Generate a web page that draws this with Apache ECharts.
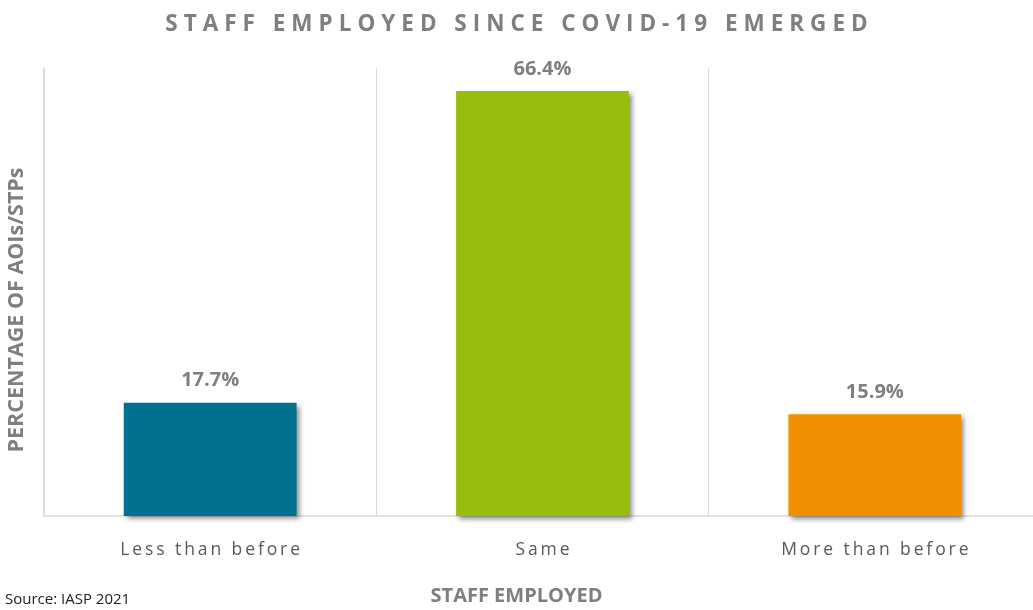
<!DOCTYPE html>
<html>
<head>
<meta charset="utf-8">
<script src="https://cdn.jsdelivr.net/npm/echarts@6/dist/echarts.min.js"></script>
<style>
  html, body { margin: 0; padding: 0; background: #fff; }
  #chart { width: 1033px; height: 610px; }
</style>
</head>
<body>
<div id="chart"></div>
<script>
// 数据
const categories = ["Less than before", "Same", "More than before"];
const values = [17.7, 66.4, 15.9];
const colors = ["#00728f", "#97bd0f", "#f08f00"];

const titleText = "STAFF EMPLOYED SINCE COVID-19 EMERGED";
const xName = "STAFF EMPLOYED";
const yName = "PERCENTAGE OF AOIs/STPs";
const sourceText = "Source: IASP 2021";

// 字母间距（用细空格模拟）
const spaced = (s, gap) => s.split("").join(gap);

const chart = echarts.init(document.getElementById("chart"));
chart.setOption({
  animation: false,
  textStyle: { fontFamily: "Open Sans" },
  title: [
    {
      text: spaced(titleText, "\u2009\u200a"),
      left: "center",
      top: 8,
      textStyle: { fontSize: 22.5, fontWeight: "bold", color: "#7f7f7f" },
    },
    {
      text: sourceText,
      left: 0,
      top: 587,
      textStyle: { fontSize: 15, fontWeight: "normal", color: "#222" },
    },
  ],
  grid: { left: 44, width: 997, top: 68, bottom: 94, outerBoundsMode: "none" },
  xAxis: {
    type: "category",
    data: categories,
    name: xName,
    nameLocation: "middle",
    nameGap: 70,
    nameTextStyle: {
      fontSize: 20,
      fontWeight: "bold",
      color: "#7f7f7f",
      padding: [0, 52, 0, 0],
    },
    axisLine: { lineStyle: { color: "#d9d9d9", width: 1.5 } },
    axisTick: { show: false },
    axisLabel: {
      fontSize: 17.5,
      color: "#595959",
      margin: 25,
      formatter: (v) => spaced(v, "\u2009"),
    },
    splitLine: { show: true, lineStyle: { color: "#d9d9d9", width: 1 } },
  },
  yAxis: {
    type: "value",
    min: 0,
    max: 70,
    name: yName,
    nameLocation: "middle",
    nameGap: 16,
    nameTextStyle: {
      fontSize: 21.5,
      fontWeight: "bold",
      color: "#7f7f7f",
      padding: [0, 36, 0, 0],
    },
    axisLine: { show: true, lineStyle: { color: "#d9d9d9", width: 1.5 } },
    axisTick: { show: false },
    axisLabel: { show: false },
    splitLine: { show: false },
  },
  series: [
    {
      type: "bar",
      barWidth: "52%",
      data: values.map((v, i) => ({ value: v, itemStyle: { color: colors[i] } })),
      itemStyle: {
        shadowColor: "rgba(0,0,0,0.45)",
        shadowBlur: 5,
        shadowOffsetX: 3,
        shadowOffsetY: 3,
      },
      label: {
        show: true,
        position: "top",
        distance: 12,
        fontSize: 20,
        fontWeight: "bold",
        color: "#7f7f7f",
        formatter: (p) => p.value.toFixed(1) + "%",
      },
    },
  ],
});
</script>
</body>
</html>
